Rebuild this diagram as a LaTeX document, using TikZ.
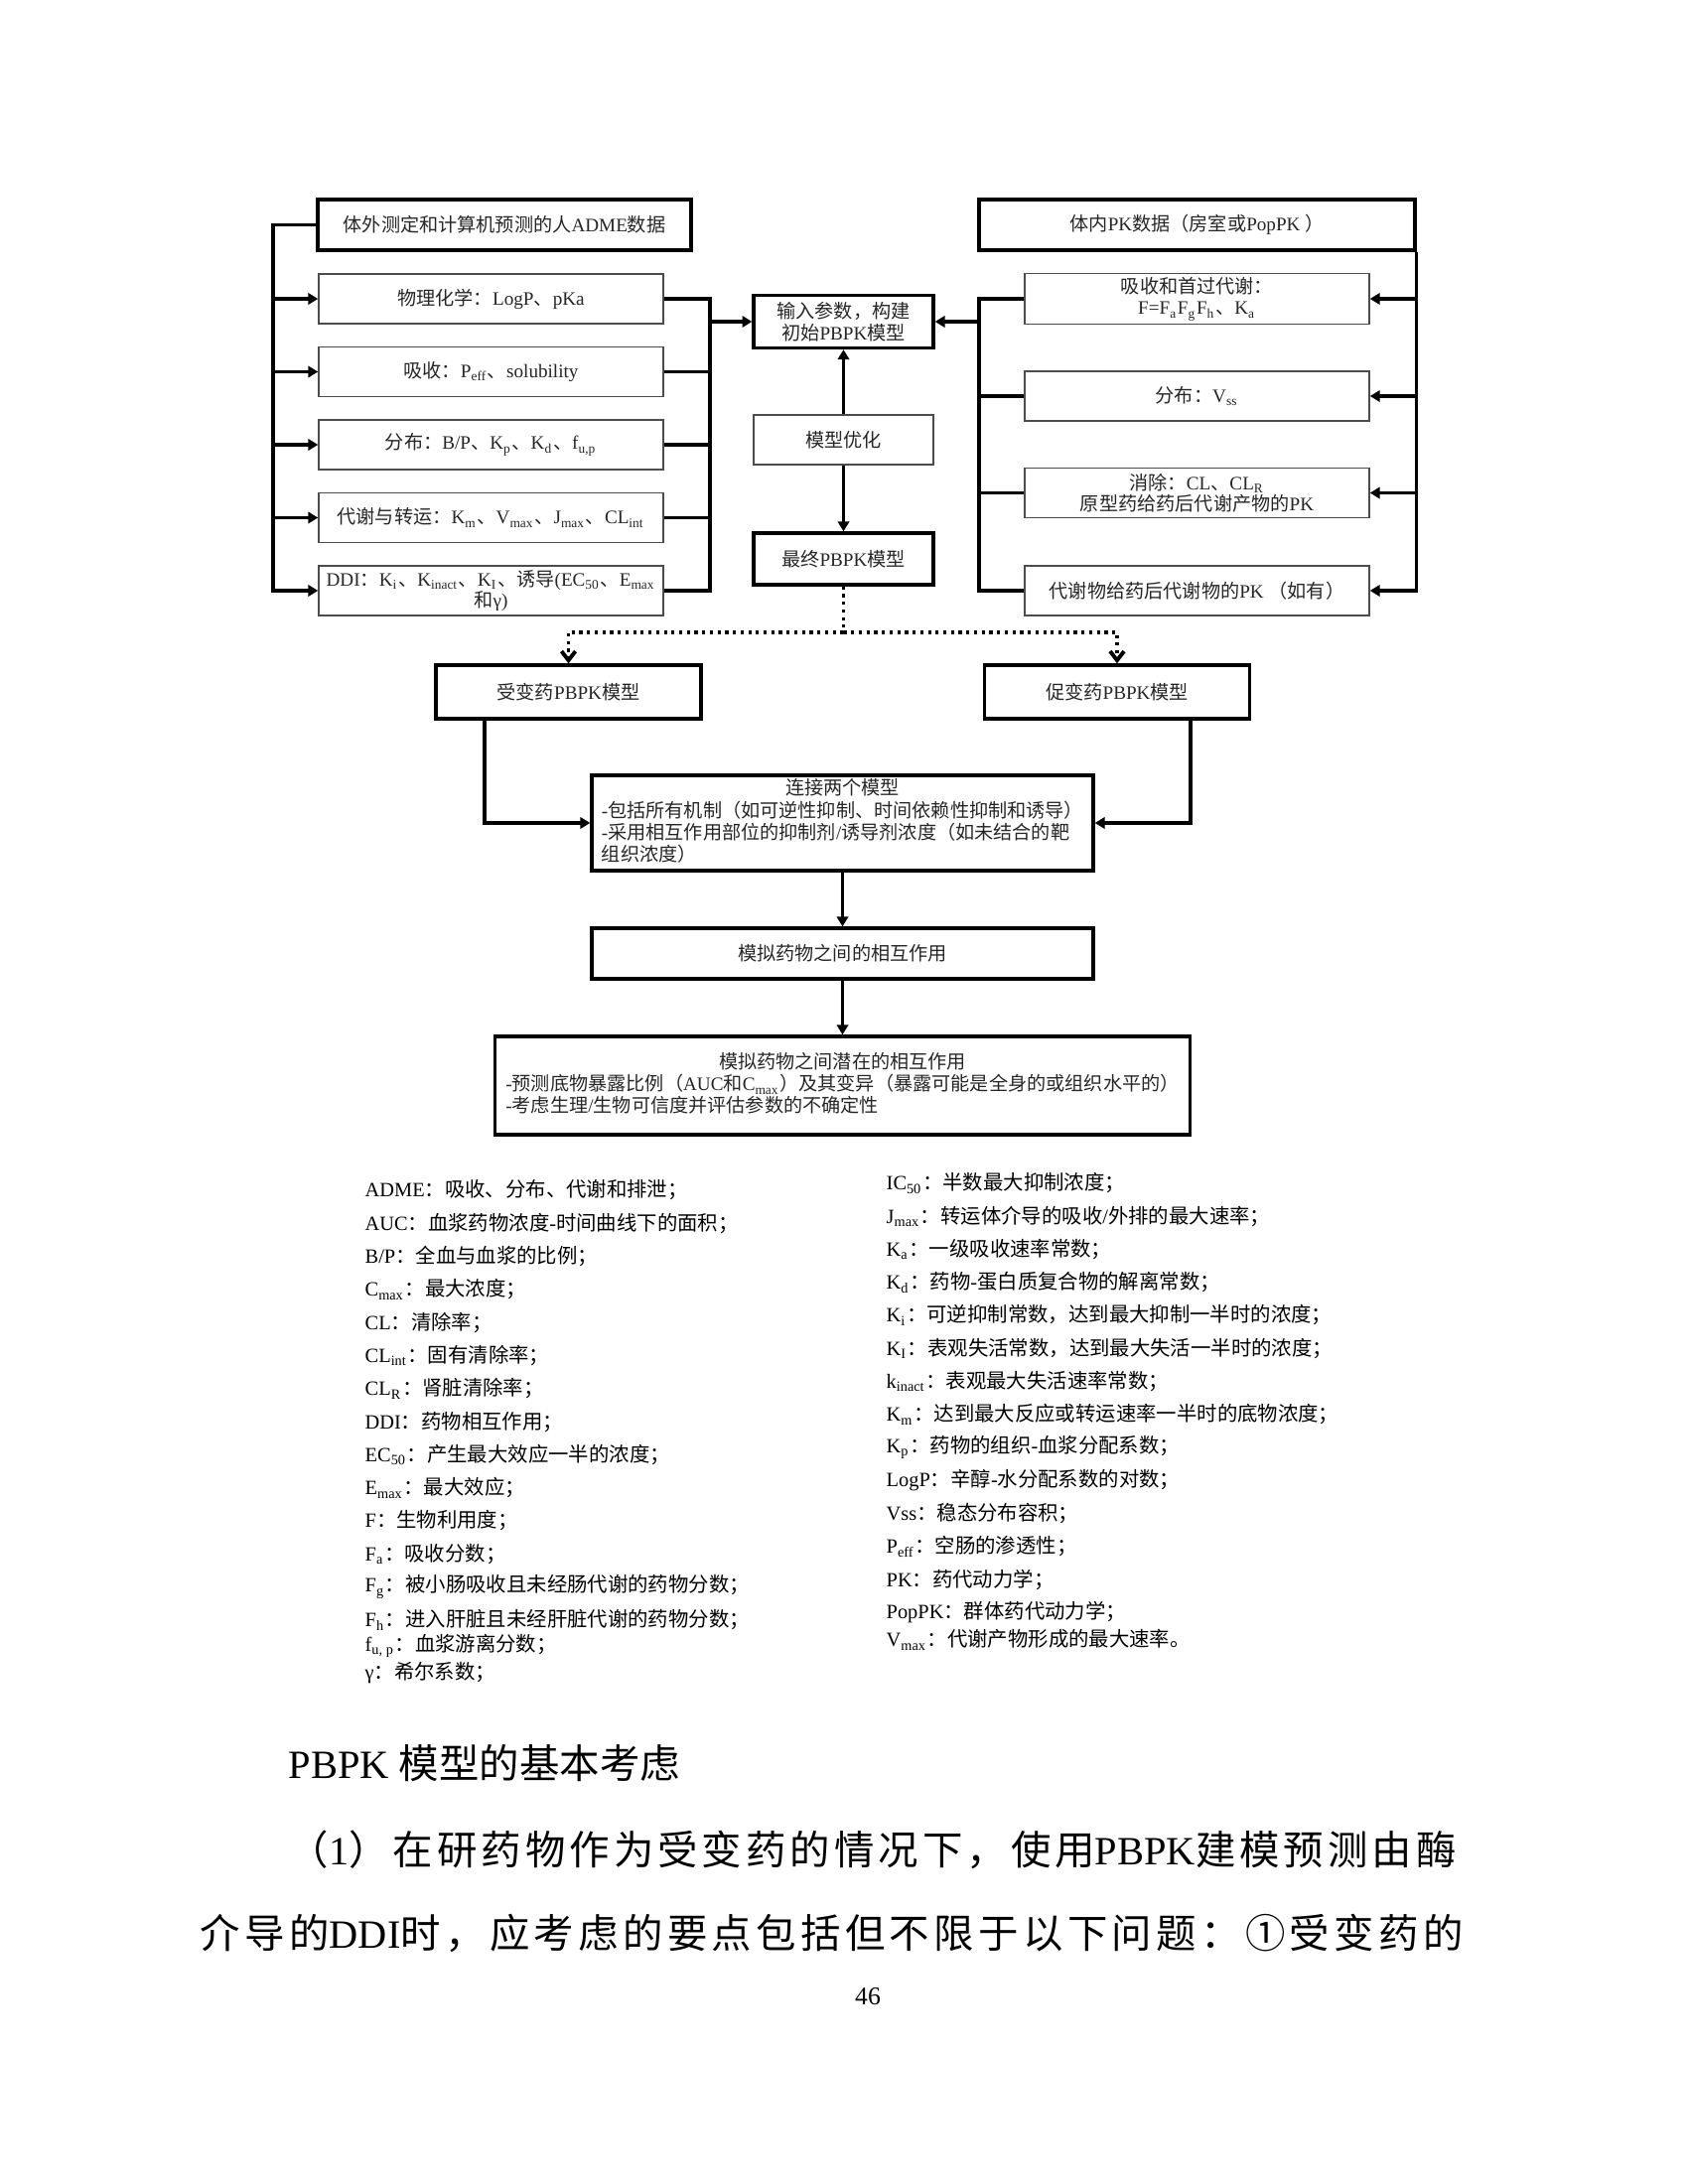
\documentclass[tikz,border=0pt]{standalone}
\usepackage{fontspec}
\setmainfont{Liberation Serif}
\newfontfamily\cjk{Noto Sans CJK SC}
\usepackage{tikz}
\usetikzlibrary{calc,positioning,arrows.meta}

% Chinese characters go to the CJK font
\XeTeXinterchartokenstate=1
\newXeTeXintercharclass\cjkcls
\newcount\cjkn
\cjkn="4E00
\loop
  \XeTeXcharclass\cjkn=\cjkcls
  \advance\cjkn by 1
\ifnum\cjkn<"A000\repeat
\XeTeXcharclass"3001=\cjkcls
\XeTeXcharclass"3002=\cjkcls
\XeTeXcharclass"FF0C=\cjkcls
\XeTeXcharclass"FF1A=\cjkcls
\XeTeXcharclass"FF1B=\cjkcls
\XeTeXcharclass"FF08=\cjkcls
\XeTeXcharclass"FF09=\cjkcls
\XeTeXcharclass"2460=\cjkcls
\def\cjkon{\cjk}
\def\cjkoff{\rmfamily}
\def\cjksep{}
\XeTeXinterchartoks 0 \cjkcls={\cjkon}
\XeTeXinterchartoks 4095 \cjkcls={\cjkon}
\XeTeXinterchartoks \cjkcls 0={\cjkoff}
\XeTeXinterchartoks \cjkcls 4095={\cjkoff}
\XeTeXinterchartoks \cjkcls \cjkcls={\cjksep}

\newcommand\boxfont{\fontsize{5.45}{6.1}\selectfont\renewcommand\arraystretch{0.9}}
\newcommand\glfont{\fontsize{5.8}{7}\selectfont}
\newcommand\bodyfont{\fontsize{11.5}{14}\selectfont}

\begin{document}
\begin{tikzpicture}[x=1cm,y=1cm,
    thk/.style={draw=black, line width=0.95pt, fill=white, text=black!85, align=center, inner sep=1pt, font=\boxfont},
    thn/.style={draw=black!70, line width=0.4pt, fill=white, text=black!85, align=center, inner sep=1pt, font=\boxfont, minimum width=3.47cm, minimum height=0.5cm},
    lnk/.style={line width=0.95pt, black},
    arr/.style={-{Triangle[length=2.8pt,width=3.2pt]}, line width=0.95pt, black},
    dotl/.style={line width=1.1pt, dash pattern=on 0.9pt off 1.3pt, black},
    dota/.style={dotl, -{Straight Barb[length=2.6pt,width=4pt]}},
    gls/.style={anchor=west, inner sep=0pt, font=\glfont},
    txt/.style={anchor=west, inner sep=0pt, font={\bodyfont\def\cjksep{\hskip0pt plus 1fil\relax}}}]
  \useasboundingbox (0,0) rectangle (17,-22);
  % top row
  \node[thk, minimum width=3.76cm, minimum height=0.51cm] (adme) at (5.08,-2.265) {体外测定和计算机预测的人ADME数据};
  \node[thk, minimum width=4.39cm, minimum height=0.51cm] (pkd) at (12.055,-2.265) {体内PK数据（房室或PopPK ）};
  % model column
  \node[thk, minimum width=1.81cm, minimum height=0.53cm] (inp) at (8.495,-3.24) {输入参数，构建\\初始PBPK模型};
  \node[thn, minimum width=1.81cm, minimum height=0.50cm] (opt) at (8.495,-4.43) {模型优化};
  \node[thk, minimum width=1.81cm, minimum height=0.52cm] (fin) at (8.495,-5.63) {最终PBPK模型};
  \foreach \i/\y/\t in {1/-3.01/{物理化学：LogP、pKa},
                        2/-3.745/{吸收：P\textsubscript{eff}、solubility},
                        3/-4.48/{分布：B/P、K\textsubscript{p}、K\textsubscript{d}、f\textsubscript{u,p}},
                        4/-5.215/{代谢与转运：K\textsubscript{m}、V\textsubscript{max}、J\textsubscript{max}、CL\textsubscript{int}},
                        5/-5.95/{DDI：K\textsubscript{i}、K\textsubscript{inact}、K\textsubscript{I}、诱导(EC\textsubscript{50}、E\textsubscript{max}\\和γ)}}{
    \node[thn] (l\i) at (4.945,\y) {\t};
  }
  \foreach \i/\y/\t in {1/-3.01/{吸收和首过代谢：\\F=F\textsubscript{a}F\textsubscript{g}F\textsubscript{h}、K\textsubscript{a}},
                        2/-3.99/{分布：V\textsubscript{ss}},
                        3/-4.965/{消除：CL、CL\textsubscript{R}\\原型药给药后代谢产物的PK},
                        4/-5.95/{代谢物给药后代谢物的PK （如有）}}{
    \node[thn] (r\i) at (12.055,\y) {\t};
  }
  % left buses
  \coordinate (lbus) at (2.75,-2.265);
  \draw[arr] (adme.west) -- (lbus) |- (l5.west);
  \foreach \i in {1,...,4} \draw[arr] (lbus |- l\i.west) -- (l\i.west);
  \coordinate (lj) at (7.15,-3.24);
  \draw[lnk] (l1.east) -- (l1.east -| lj) |- (l5.east);
  \foreach \i in {2,3,4} \draw[lnk] (l\i.east) -- (l\i.east -| lj);
  \draw[arr] (lj) -- (inp.west);
  % right buses
  \coordinate (rj) at (9.86,-3.24);
  \draw[lnk] (r1.west) -- (r1.west -| rj) |- (r4.west);
  \foreach \i in {2,3} \draw[lnk] (r\i.west) -- (r\i.west -| rj);
  \draw[arr] (rj) -- (inp.east);
  \draw[arr] (pkd.south east) |- (r4.east);
  \foreach \i in {1,2,3} \draw[arr] (pkd.south east |- r\i.east) -- (r\i.east);
  \draw[arr] (opt) -- (inp);
  \draw[arr] (opt) -- (fin);
  % two drug models
  \node[thk, minimum width=2.67cm, minimum height=0.54cm] (vic) at (5.725,-6.97) {受变药PBPK模型};
  \node[thk, minimum width=2.67cm, minimum height=0.54cm] (per) at (11.25,-6.97) {促变药PBPK模型};
  \coordinate (dsplit) at ([yshift=-0.46cm]fin.south);
  \draw[dotl] (fin.south) -- (dsplit);
  \draw[dota] (dsplit) -| (vic.north);
  \draw[dota] (dsplit) -| (per.north);
  \node[thk, minimum width=5.05cm, minimum height=0.96cm] (join) at (8.485,-8.29) {\begin{tabular}{@{}l@{}}\multicolumn{1}{@{}c@{}}{连接两个模型}\\-包括所有机制（如可逆性抑制、时间依赖性抑制和诱导）\\-采用相互作用部位的抑制剂/诱导剂浓度（如未结合的靶\\组织浓度）\end{tabular}};
  \draw[arr] ([xshift=-0.845cm]vic.south) |- (join.west);
  \draw[arr] ([xshift=0.74cm]per.south) |- (join.east);
  \node[thk, minimum width=5.05cm, minimum height=0.51cm] (sim) at (8.485,-9.605) {模拟药物之间的相互作用};
  \node[thk, minimum width=7.0cm, minimum height=0.99cm] (pot) at (8.485,-10.935) {\begin{tabular}{@{}l@{}}\multicolumn{1}{@{}c@{}}{模拟药物之间潜在的相互作用}\\-预测底物暴露比例（AUC和C\textsubscript{max}）及其变异（暴露可能是全身的或组织水平的）\\-考虑生理/生物可信度并评估参数的不确定性\end{tabular}};
  \draw[arr] (join) -- (sim);
  \draw[arr] (sim) -- (pot);
  % abbreviations
  \foreach \y/\t [count=\i] in {-11.99/{ADME：吸收、分布、代谢和排泄；},
      -12.323/{AUC：血浆药物浓度-时间曲线下的面积；},
      -12.656/{B/P：全血与血浆的比例；},
      -12.989/{C\textsubscript{max}：最大浓度；},
      -13.322/{CL：清除率；},
      -13.655/{CL\textsubscript{int}：固有清除率；},
      -13.988/{CL\textsubscript{R}：肾脏清除率；},
      -14.321/{DDI：药物相互作用；},
      -14.654/{EC\textsubscript{50}：产生最大效应一半的浓度；},
      -14.987/{E\textsubscript{max}：最大效应；},
      -15.32/{F：生物利用度；},
      -15.653/{F\textsubscript{a}：吸收分数；},
      -15.986/{F\textsubscript{g}：被小肠吸收且未经肠代谢的药物分数；},
      -16.319/{F\textsubscript{h}：进入肝脏且未经肝脏代谢的药物分数；},
      -16.58/{f\textsubscript{u, p}：血浆游离分数；},
      -16.85/{γ：希尔系数；}}
    \node[gls] (gl\i) at (3.67,\y) {\t};
  \foreach \y/\t [count=\i] in {-11.92/{IC\textsubscript{50}：半数最大抑制浓度；},
      -12.2525/{J\textsubscript{max}：转运体介导的吸收/外排的最大速率；},
      -12.585/{K\textsubscript{a}：一级吸收速率常数；},
      -12.9175/{K\textsubscript{d}：药物-蛋白质复合物的解离常数；},
      -13.25/{K\textsubscript{i}：可逆抑制常数，达到最大抑制一半时的浓度；},
      -13.5825/{K\textsubscript{I}：表观失活常数，达到最大失活一半时的浓度；},
      -13.915/{k\textsubscript{inact}：表观最大失活速率常数；},
      -14.2475/{K\textsubscript{m}：达到最大反应或转运速率一半时的底物浓度；},
      -14.58/{K\textsubscript{p}：药物的组织-血浆分配系数；},
      -14.9125/{LogP：辛醇-水分配系数的对数；},
      -15.245/{Vss：稳态分布容积；},
      -15.5775/{P\textsubscript{eff}：空肠的渗透性；},
      -15.91/{PK：药代动力学；},
      -16.2425/{PopPK：群体药代动力学；},
      -16.52/{V\textsubscript{max}：代谢产物形成的最大速率。}}
    \node[gls] (gr\i) at (8.92,\y) {\t};
  % page text
  \node[txt] (head) at (2.90,-17.76) {PBPK 模型的基本考虑};
  \node[txt] (line1) at (2.90,-18.63) {\hbox to 11.76cm{（1）在研药物作为受变药的情况下，使用PBPK建模预测由酶}};
  \node[txt] (line2) at (2.01,-19.47) {\hbox to 12.72cm{介导的DDI时，应考虑的要点包括但不限于以下问题：①受变药的}};
  \node[inner sep=0pt, font=\fontsize{7.3}{9}\selectfont] (pgno) at (8.74,-20.11) {46};
\end{tikzpicture}
\end{document}
